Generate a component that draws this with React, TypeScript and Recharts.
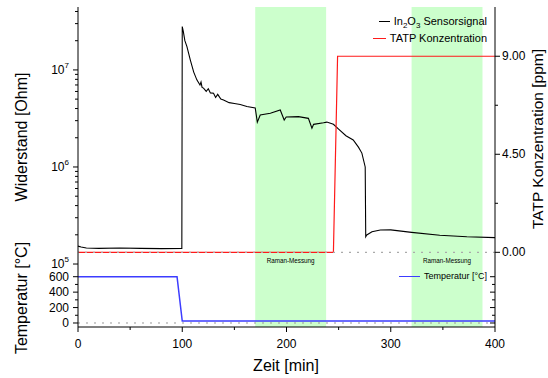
import React from "react";
import { ComposedChart, Line, XAxis, YAxis, ReferenceArea, ReferenceLine } from "recharts";

// time [min] vs. sensor resistance [Ohm]
const sensorSignal = [
  { t: 0, r: 1.53e5 }, { t: 3, r: 1.5e5 }, { t: 8, r: 1.46e5 }, { t: 20, r: 1.45e5 },
  { t: 40, r: 1.46e5 }, { t: 60, r: 1.45e5 }, { t: 80, r: 1.44e5 }, { t: 99.6, r: 1.45e5 },
  { t: 100, r: 2.8e7 }, { t: 101, r: 2.5e7 }, { t: 102.5, r: 2.0e7 }, { t: 104.5, r: 1.74e7 },
  { t: 107.7, r: 1.27e7 }, { t: 111, r: 9.5e6 }, { t: 114, r: 7.9e6 }, { t: 117, r: 7.0e6 },
  { t: 118, r: 7.5e6 }, { t: 119, r: 6.6e6 }, { t: 120.4, r: 6.5e6 }, { t: 123, r: 6.0e6 },
  { t: 125, r: 6.4e6 }, { t: 127, r: 5.8e6 }, { t: 130, r: 5.75e6 }, { t: 132, r: 5.2e6 },
  { t: 134, r: 5.6e6 }, { t: 137, r: 5.0e6 }, { t: 139.6, r: 4.9e6 }, { t: 145, r: 4.6e6 },
  { t: 150, r: 4.5e6 }, { t: 155.6, r: 4.4e6 }, { t: 162, r: 4.2e6 }, { t: 170, r: 4.05e6 },
  { t: 172, r: 2.9e6 }, { t: 174.8, r: 3.43e6 }, { t: 184.5, r: 3.58e6 }, { t: 194, r: 3.87e6 },
  { t: 197.8, r: 3.05e6 }, { t: 199.7, r: 3.27e6 }, { t: 211.5, r: 3.3e6 }, { t: 221, r: 3.17e6 },
  { t: 224.4, r: 2.51e6 }, { t: 226, r: 2.75e6 }, { t: 235.5, r: 2.85e6 }, { t: 238.7, r: 2.9e6 },
  { t: 245, r: 2.75e6 }, { t: 250, r: 2.45e6 }, { t: 257, r: 2.1e6 }, { t: 264, r: 1.9e6 },
  { t: 269, r: 1.6e6 }, { t: 272.3, r: 1.39e6 }, { t: 275.5, r: 1.0e6 }, { t: 276, r: 1.91e5 },
  { t: 277, r: 1.99e5 }, { t: 282, r: 2.15e5 }, { t: 290, r: 2.24e5 }, { t: 300, r: 2.25e5 },
  { t: 320, r: 2.12e5 }, { t: 347, r: 1.98e5 }, { t: 373, r: 1.91e5 }, { t: 400, r: 1.87e5 },
];

// TATP concentration [ppm]
const tatpConc = [
  { t: 0, c: 0 }, { t: 245, c: 0 }, { t: 249, c: 9 }, { t: 400, c: 9 },
];

// sensor temperature [°C]
const temperature = [
  { t: 0, temp: 600 }, { t: 95, temp: 600 }, { t: 100, temp: 25 }, { t: 400, temp: 25 },
];

const ramanWindows = [
  { from: 170, to: 238 },
  { from: 320, to: 388 },
];

const timeTicks = [0, 50, 100, 150, 200, 250, 300, 350, 400];
const timeLabels = [0, 100, 200, 300, 400];
const resistanceTicks = [
  1e5, 2e5, 3e5, 4e5, 5e5, 6e5, 7e5, 8e5, 9e5,
  1e6, 2e6, 3e6, 4e6, 5e6, 6e6, 7e6, 8e6, 9e6,
  1e7, 2e7, 3e7, 4e7,
];
const resistanceMajors = [1e5, 1e6, 1e7];
const concTicks = [0, 2.25, 4.5, 6.75, 9];
const concMajors = [0, 4.5, 9];
const tempTicks = [0, 100, 200, 300, 400, 500, 600];
const tempMajors = [0, 200, 400, 600];

const FONT = "'Liberation Sans', Arial, Helvetica, sans-serif";
const GREEN = "#ccffcc";
const W = 548;
const H = 378;

type Side = "left" | "right" | "top" | "bottom";

function makeTick(side: Side, majors: number[], inward: boolean, label?: (v: number) => React.ReactNode) {
  return (props: any) => {
    const { x, y, payload } = props;
    const v = payload.value;
    const isMajor = majors.some((m) => Math.abs(m - v) <= 1e-9 * Math.max(1, Math.abs(m)));
    const len = isMajor ? 5 : 3;
    const s = inward ? -1 : 1;
    let x2 = x;
    let y2 = y;
    if (side === "left") x2 = x - s * len;
    if (side === "right") x2 = x + s * len;
    if (side === "top") y2 = y - s * len;
    if (side === "bottom") y2 = y + s * len;
    let text = null;
    if (isMajor && label) {
      if (side === "left")
        text = (
          <text x={x - 9} y={y} textAnchor="end" dominantBaseline="central" fontSize={12} fill="#000">
            {label(v)}
          </text>
        );
      if (side === "right")
        text = (
          <text x={x + 7} y={y} textAnchor="start" dominantBaseline="central" fontSize={12} fill="#000">
            {label(v)}
          </text>
        );
      if (side === "bottom")
        text = (
          <text x={x} y={y + 17} textAnchor="middle" dominantBaseline="central" fontSize={12} fill="#000">
            {label(v)}
          </text>
        );
    }
    return (
      <g>
        <line x1={x} y1={y} x2={x2} y2={y2} stroke="#000" strokeWidth={1} />
        {text}
      </g>
    );
  };
}

const logLabel = (v: number) => (
  <>
    <tspan>10</tspan>
    <tspan fontSize={8} dy={-5}>{Math.round(Math.log10(v))}</tspan>
  </>
);

const fixed2 = (v: number) => v.toFixed(2);
const plain = (v: number) => String(v);

const abs = (left: number, top: number): React.CSSProperties => ({ position: "absolute", left, top });

function VTitle({ cx, cy, size, children }: { cx: number; cy: number; size: number; children: React.ReactNode }) {
  return (
    <div
      style={{
        position: "absolute",
        left: cx,
        top: cy,
        transform: "translate(-50%, -50%) rotate(-90deg)",
        whiteSpace: "nowrap",
        fontSize: size,
        lineHeight: 1,
      }}
    >
      {children}
    </div>
  );
}

function LegendRow({ top, right, color, lineW, size, children }: any) {
  return (
    <div
      style={{
        position: "absolute",
        top: top - 7,
        right,
        height: 14,
        display: "flex",
        alignItems: "center",
        gap: 4,
        fontSize: size,
        whiteSpace: "nowrap",
        lineHeight: 1,
      }}
    >
      <div style={{ width: lineW, borderTop: `1.3px solid ${color}` }} />
      <span>{children}</span>
    </div>
  );
}

const subStyle: React.CSSProperties = { fontSize: 8, verticalAlign: -3, lineHeight: 0 };

export default function App() {
  return (
    <div
      style={{
        position: "absolute",
        left: 0,
        top: 0,
        width: W,
        height: H,
        background: "#fff",
        fontFamily: FONT,
        color: "#000",
      }}
    >
      {/* lower panel: temperature */}
      <div style={abs(0, 0)}>
        <ComposedChart width={W} height={H} margin={{ top: 268, right: 3, bottom: 21, left: 28 }} style={{ fontFamily: FONT }}>
          <XAxis
            xAxisId="b"
            dataKey="t"
            type="number"
            domain={[0, 400]}
            ticks={timeTicks}
            interval={0}
            height={30}
            tickSize={0}
            tickMargin={0}
            tickLine={false}
            stroke="#000"
            tick={makeTick("bottom", timeLabels, false, plain)}
          />
          <XAxis
            xAxisId="t"
            dataKey="t"
            type="number"
            orientation="top"
            domain={[0, 400]}
            ticks={timeTicks}
            interval={0}
            height={0}
            tickSize={0}
            tickMargin={0}
            tickLine={false}
            stroke="#000"
            tick={makeTick("top", [], true)}
          />
          <YAxis
            yAxisId="temp"
            dataKey="temp"
            type="number"
            domain={[-52, 713]}
            allowDataOverflow
            ticks={tempTicks}
            interval={0}
            width={50}
            tickSize={0}
            tickMargin={0}
            tickLine={false}
            stroke="#000"
            tick={makeTick("left", tempMajors, false, plain)}
          />
          <YAxis
            yAxisId="tempR"
            orientation="right"
            type="number"
            domain={[-52, 713]}
            allowDataOverflow
            ticks={tempTicks}
            interval={0}
            width={50}
            tickSize={0}
            tickMargin={0}
            tickLine={false}
            stroke="#000"
            tick={makeTick("right", tempMajors, true)}
          />
          {ramanWindows.map((w) => (
            <ReferenceArea
              key={w.from}
              xAxisId="b"
              yAxisId="temp"
              x1={w.from}
              x2={w.to}
              fill={GREEN}
              fillOpacity={1}
              stroke="none"
            />
          ))}
          <ReferenceLine xAxisId="b" yAxisId="temp" y={0} stroke="#999" strokeDasharray="2 6" strokeWidth={1} />
          <Line
            xAxisId="b"
            yAxisId="temp"
            data={temperature}
            dataKey="temp"
            type="linear"
            stroke="#3c3cff"
            strokeWidth={1.5}
            dot={false}
            isAnimationActive={false}
          />
        </ComposedChart>
      </div>

      {/* upper panel: resistance + TATP */}
      <div style={abs(0, 0)}>
        <ComposedChart width={W} height={H} margin={{ top: 7, right: 3, bottom: 110, left: 28 }} style={{ fontFamily: FONT }}>
          <XAxis
            xAxisId="b"
            dataKey="t"
            type="number"
            domain={[0, 400]}
            height={0}
            tick={false}
            tickLine={false}
            stroke="#000"
          />
          <XAxis
            xAxisId="t"
            dataKey="t"
            type="number"
            orientation="top"
            domain={[0, 400]}
            ticks={timeTicks}
            interval={0}
            height={0}
            tickSize={0}
            tickMargin={0}
            tickLine={false}
            stroke="#000"
            tick={makeTick("top", [], true)}
          />
          <YAxis
            yAxisId="r"
            dataKey="r"
            scale="log"
            type="number"
            domain={[9.1e4, 4.45e7]}
            allowDataOverflow
            ticks={resistanceTicks}
            interval={0}
            width={50}
            tickSize={0}
            tickMargin={0}
            tickLine={false}
            stroke="#000"
            tick={makeTick("left", resistanceMajors, false, logLabel)}
          />
          <YAxis
            yAxisId="c"
            dataKey="c"
            orientation="right"
            type="number"
            domain={[-0.72, 11.26]}
            allowDataOverflow
            ticks={concTicks}
            interval={0}
            width={50}
            tickSize={0}
            tickMargin={0}
            tickLine={false}
            stroke="#000"
            tick={makeTick("right", concMajors, false, fixed2)}
          />
          {ramanWindows.map((w) => (
            <ReferenceArea
              key={w.from}
              xAxisId="b"
              yAxisId="c"
              x1={w.from}
              x2={w.to}
              fill={GREEN}
              fillOpacity={1}
              stroke="none"
            />
          ))}
          <Line
            xAxisId="b"
            yAxisId="r"
            data={sensorSignal}
            dataKey="r"
            type="linear"
            stroke="#000"
            strokeWidth={1.1}
            dot={false}
            isAnimationActive={false}
          />
          <Line
            xAxisId="b"
            yAxisId="c"
            data={tatpConc}
            dataKey="c"
            type="linear"
            stroke="#ff1a1a"
            strokeWidth={1.2}
            dot={false}
            isAnimationActive={false}
          />
          <ReferenceLine xAxisId="b" yAxisId="c" y={0} stroke="#aaa" strokeDasharray="2 6" strokeWidth={1.2} />
        </ComposedChart>
      </div>

      {/* axis titles */}
      <VTitle cx={22} cy={137} size={16}>Widerstand [Ohm]</VTitle>
      <VTitle cx={22} cy={298} size={16}>Temperatur [°C]</VTitle>
      <VTitle cx={538} cy={139} size={15.5}>TATP Konzentration [ppm]</VTitle>
      <div style={{ position: "absolute", left: 286, top: 366, transform: "translate(-50%, -50%)", fontSize: 16, whiteSpace: "nowrap", lineHeight: 1 }}>
        Zeit [min]
      </div>

      {/* Raman labels */}
      {ramanWindows.map((w, i) => (
        <div
          key={i}
          style={{
            position: "absolute",
            left: 78 + ((w.from + w.to) / 2) * (417 / 400),
            top: 261,
            transform: "translate(-50%, -50%)",
            fontSize: 6.3,
            whiteSpace: "nowrap",
            lineHeight: 1,
          }}
        >
          Raman-Messung
        </div>
      ))}

      {/* legends */}
      <LegendRow top={21.7} right={61} color="#000" lineW={11} size={11}>
        In<span style={subStyle}>2</span>O<span style={subStyle}>3</span> Sensorsignal
      </LegendRow>
      <LegendRow top={38.3} right={61} color="#ff1a1a" lineW={13} size={11}>
        TATP Konzentration
      </LegendRow>
      <LegendRow top={276.7} right={61} color="#3c3cff" lineW={21} size={9}>
        Temperatur [°C]
      </LegendRow>
    </div>
  );
}
